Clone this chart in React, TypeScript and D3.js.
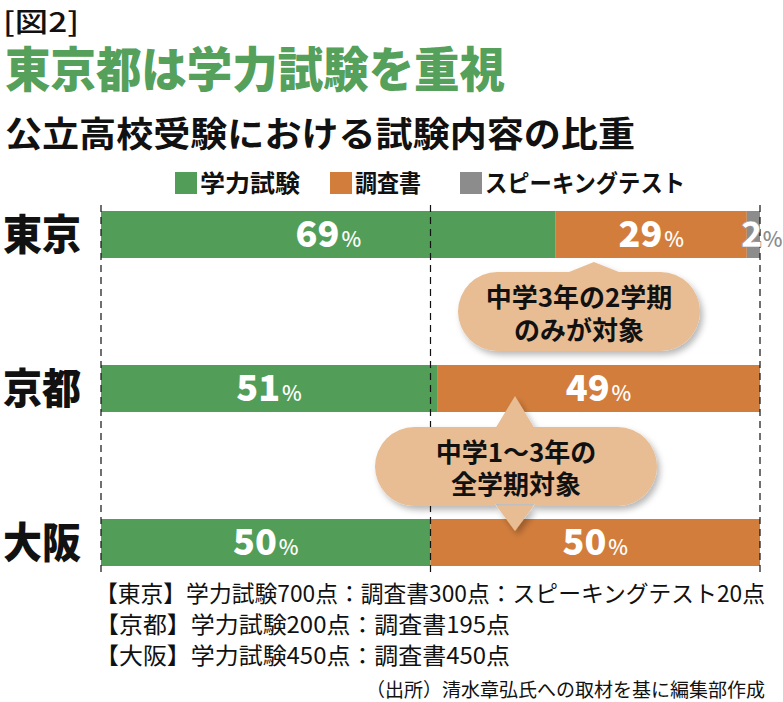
import React from "react";
import * as d3 from "d3";

const categories = ["東京", "京都", "大阪"];
const seriesKeys = ["学力試験", "調査書", "スピーキングテスト"];
const academic = [69, 51, 50];
const report = [29, 49, 50];
const speaking = [2, 0, 0];
const gridTicks = [0, 50, 100];
const notes = [
  "【東京】学力試験700点：調査書300点：スピーキングテスト20点",
  "【京都】学力試験200点：調査書195点",
  "【大阪】学力試験450点：調査書450点",
];
const source = "（出所）清水章弘氏への取材を基に編集部作成";
const callout1 = ["中学3年の2学期", "のみが対象"];
const callout2 = ["中学1～3年の", "全学期対象"];

const COLORS = ["#529e58", "#d27d3c", "#8c8c8c"];
const PEACH = "#e8bd94";
const JP = "'Noto Sans CJK JP', 'Noto Sans', sans-serif";

export default function App() {
  const W = 783, H = 702;
  const x = d3.scaleLinear().domain([0, 100]).range([101, 760]);
  const y = d3.scalePoint<string>().domain(categories).range([211, 519]);
  const barH = 47;

  const rows = categories.map((c, i) => ({
    cat: c,
    [seriesKeys[0]]: academic[i],
    [seriesKeys[1]]: report[i],
    [seriesKeys[2]]: speaking[i],
  }));
  const stack = d3.stack<any>().keys(seriesKeys)(rows);

  const pill = (x0: number, x1: number, y0: number, y1: number) => {
    const r = (y1 - y0) / 2;
    const p = d3.path();
    p.moveTo(x0 + r, y0);
    p.lineTo(x1 - r, y0);
    p.arc(x1 - r, y0 + r, r, -Math.PI / 2, Math.PI / 2);
    p.lineTo(x0 + r, y1);
    p.arc(x0 + r, y0 + r, r, Math.PI / 2, (3 * Math.PI) / 2);
    p.closePath();
    return p.toString();
  };

  const tokyoBottom = (y("東京") as number) + barH;
  const kyotoBottom = (y("京都") as number) + barH;
  const osakaTop = y("大阪") as number;

  const c1x = x(stack[1][0][0] + (stack[1][0][1] - stack[1][0][0]) * 0.2);
  const c1 = { x0: 458, x1: 700, y0: 272, y1: 351 };
  const c2 = { x0: 375, x1: 657, y0: 427, y1: 506 };
  const c2x = 515;

  return (
    <svg width={W} height={H} style={{ display: "block", position: "absolute", left: 0, top: 0, background: "#fff" }}>
      <defs>
        <filter id="sh" x="-10%" y="-20%" width="130%" height="150%">
          <feDropShadow dx="3" dy="4" stdDeviation="3" floodColor="#000" floodOpacity="0.28" />
        </filter>
      </defs>
      <rect width={W} height={H} fill="#fff" />

      {/* headers */}
      <text x={3} y={32} fontFamily={JP} fontSize={27} fontWeight={500} fill="#111" textLength={76} lengthAdjust="spacingAndGlyphs">[図2]</text>
      <text x={5} y={87} fontFamily={JP} fontSize={48} fontWeight={900} fill="#55a05a" textLength={500} lengthAdjust="spacingAndGlyphs">東京都は学力試験を重視</text>
      <text x={5} y={147} fontFamily={JP} fontSize={35} fontWeight={700} fill="#111" textLength={630} lengthAdjust="spacingAndGlyphs">公立高校受験における試験内容の比重</text>

      {/* legend */}
      {[
        { sx: 175, tx: 200, tl: 100 },
        { sx: 330, tx: 355, tl: 66 },
        { sx: 460, tx: 485, tl: 200 },
      ].map((l, i) => (
        <g key={seriesKeys[i]}>
          <rect x={l.sx} y={172} width={22} height={22} fill={COLORS[i]} />
          <text x={l.tx} y={192} fontFamily={JP} fontSize={24} fontWeight={700} fill="#111" textLength={l.tl} lengthAdjust="spacingAndGlyphs">{seriesKeys[i]}</text>
        </g>
      ))}

      {/* bars */}
      {stack.map((s, si) =>
        s.map((d, ci) =>
          d[1] - d[0] > 0 ? (
            <rect key={`${si}-${ci}`} x={x(d[0])} y={y(categories[ci])} width={x(d[1]) - x(d[0])} height={barH} fill={COLORS[si]} />
          ) : null
        )
      )}

      {/* dashed grid */}
      {gridTicks.map((t) => (
        <line key={t} x1={x(t)} x2={x(t)} y1={205} y2={573} stroke="#111" strokeWidth={1.2} strokeDasharray="7,5" />
      ))}

      {/* value labels */}
      {stack.map((s, si) =>
        s.map((d, ci) => {
          const v = d[1] - d[0];
          if (v <= 0) return null;
          const cy = (y(categories[ci]) as number) + barH / 2 + 12;
          if (si === 2) {
            return (
              <text key={`l${si}-${ci}`} x={x(d[0]) - 6} y={cy} fontFamily={JP} fontWeight={900} fill="#fff">
                <tspan fontSize={36} stroke="#8c8c8c" strokeWidth={0.6}>{v}</tspan>
                <tspan fontSize={21} fill="#8c8c8c" fontWeight={500}>%</tspan>
              </text>
            );
          }
          const cx = (x(d[0]) + x(d[1])) / 2;
          return (
            <text key={`l${si}-${ci}`} x={cx} y={cy} textAnchor="middle" fontFamily={JP} fontWeight={900} fill="#fff">
              <tspan fontSize={36}>{v}</tspan>
              <tspan fontSize={21} fontWeight={500} dx={2}>%</tspan>
            </text>
          );
        })
      )}

      {/* category labels */}
      {categories.map((c) => (
        <text key={c} x={3} y={(y(c) as number) + barH / 2 + 15} fontFamily={JP} fontSize={42} fontWeight={900} fill="#111" textLength={78} lengthAdjust="spacingAndGlyphs">{c}</text>
      ))}

      {/* callout 1 */}
      <g filter="url(#sh)">
        <path d={pill(c1.x0, c1.x1, c1.y0, c1.y1) + `M${c1x - 30},${c1.y0 + 2}L${c1x},${tokyoBottom + 4}L${c1x + 30},${c1.y0 + 2}Z`} fill={PEACH} />
      </g>
      <text textAnchor="middle" fontFamily={JP} fontSize={26} fontWeight={700} fill="#111">
        {callout1.map((t, i) => (
          <tspan key={t} x={(c1.x0 + c1.x1) / 2} y={c1.y0 + 35 + i * 33}>{t}</tspan>
        ))}
      </text>

      {/* callout 2 */}
      <g filter="url(#sh)">
        <path d={pill(c2.x0, c2.x1, c2.y0, c2.y1) + `M${c2x - 20},${c2.y0 + 2}L${c2x},${kyotoBottom - 16}L${c2x + 20},${c2.y0 + 2}Z` + `M${c2x - 20},${c2.y1 - 2}L${c2x},${osakaTop + 12}L${c2x + 20},${c2.y1 - 2}Z`} fill={PEACH} />
      </g>
      <text textAnchor="middle" fontFamily={JP} fontSize={26} fontWeight={700} fill="#111">
        {callout2.map((t, i) => (
          <tspan key={t} x={(c2.x0 + c2.x1) / 2} y={c2.y0 + 35 + i * 32}>{t}</tspan>
        ))}
      </text>

      {/* notes */}
      {notes.map((n, i) => (
        <text key={n} x={95} y={602 + i * 31} fontFamily={JP} fontSize={23} fontWeight={400} fill="#111" textLength={[670, 415, 415][i]} lengthAdjust="spacingAndGlyphs">{n}</text>
      ))}
      <text x={765} y={697} textAnchor="end" fontFamily={JP} fontSize={19} fontWeight={400} fill="#111">{source}</text>
    </svg>
  );
}
